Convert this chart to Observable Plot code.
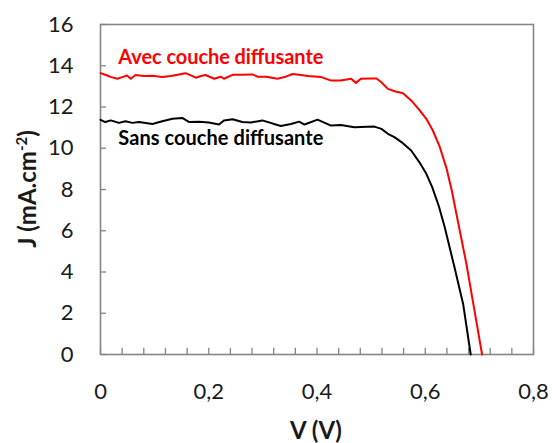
<!DOCTYPE html>
<html>
<head>
<meta charset="utf-8">
<script src="https://cdn.jsdelivr.net/npm/d3@7"></script>
<script src="https://cdn.jsdelivr.net/npm/@observablehq/plot@0.6"></script>
<style>
  html, body { margin: 0; padding: 0; background: #fff; }
  #chart { width: 552px; height: 443px; }
</style>
</head>
<body>
<div id="chart"></div>
<script>
// Avec couche diffusante (red)
const vAvec = [0, 0.01, 0.02, 0.031, 0.04, 0.049, 0.056, 0.065, 0.08, 0.096, 0.114, 0.13, 0.145, 0.157, 0.168, 0.176, 0.186, 0.194, 0.21, 0.222, 0.228, 0.244, 0.259, 0.281, 0.29, 0.306, 0.327, 0.34, 0.355, 0.37, 0.383, 0.407, 0.426, 0.444, 0.463, 0.472, 0.481, 0.5, 0.51, 0.519, 0.531, 0.545, 0.559, 0.574, 0.589, 0.602, 0.614, 0.627, 0.639, 0.649, 0.66, 0.676, 0.691, 0.705];
const jAvec = [13.64, 13.55, 13.45, 13.37, 13.45, 13.53, 13.37, 13.55, 13.5, 13.52, 13.45, 13.5, 13.58, 13.64, 13.52, 13.42, 13.5, 13.55, 13.37, 13.47, 13.37, 13.56, 13.56, 13.58, 13.47, 13.47, 13.37, 13.45, 13.6, 13.55, 13.5, 13.46, 13.28, 13.28, 13.37, 13.17, 13.37, 13.38, 13.38, 13.2, 12.88, 12.75, 12.67, 12.32, 11.86, 11.43, 10.86, 10.05, 9.05, 7.95, 6.5, 4.4, 2.13, 0];

// Sans couche diffusante (black)
const vSans = [0, 0.009, 0.019, 0.034, 0.046, 0.059, 0.071, 0.096, 0.114, 0.133, 0.151, 0.164, 0.182, 0.2, 0.219, 0.228, 0.244, 0.262, 0.278, 0.299, 0.333, 0.352, 0.367, 0.377, 0.401, 0.426, 0.444, 0.469, 0.506, 0.519, 0.531, 0.543, 0.556, 0.574, 0.589, 0.602, 0.613, 0.625, 0.636, 0.654, 0.67, 0.684];
const jSans = [11.38, 11.27, 11.35, 11.23, 11.31, 11.23, 11.27, 11.18, 11.31, 11.43, 11.47, 11.27, 11.29, 11.25, 11.15, 11.35, 11.41, 11.27, 11.25, 11.35, 11.08, 11.18, 11.29, 11.15, 11.39, 11.1, 11.13, 11.02, 11.05, 10.94, 10.7, 10.54, 10.3, 9.89, 9.33, 8.76, 8.1, 7.2, 6.17, 4.23, 2.45, 0];

const xLabelTicks = [0, 0.2, 0.4, 0.6, 0.8];
const xMinorTicks = [0, 0.04, 0.08, 0.12, 0.16, 0.2, 0.24, 0.28, 0.32, 0.36, 0.4, 0.44, 0.48, 0.52, 0.56, 0.6, 0.64, 0.68, 0.72, 0.76, 0.8];
const yTicks = [0, 2, 4, 6, 8, 10, 12, 14, 16];
const seriesNames = ["Avec couche diffusante", "Sans couche diffusante"];

const avec = vAvec.map((v, i) => ({V: v, J: jAvec[i]}));
const sans = vSans.map((v, i) => ({V: v, J: jSans[i]}));
const fr = d => String(d).replace(".", ",");

const plot = Plot.plot({
  width: 552,
  height: 443,
  marginLeft: 100,
  marginRight: 19,
  marginTop: 24,
  marginBottom: 89,
  style: {fontFamily: "Lato, 'Open Sans', sans-serif", fontSize: "22px", color: "#000", background: "#fff"},
  x: {domain: [0, 0.8], axis: null},
  y: {domain: [0, 16], axis: null},
  marks: [
    Plot.frame({stroke: "#858585", strokeWidth: 1.6}),
    Plot.ruleX(xMinorTicks, {x: d => d, y1: 0, y2: 0.3, stroke: "#858585", strokeWidth: 1.3}),
    Plot.ruleY(yTicks, {y: d => d, x1: 0, x2: 0.011, stroke: "#858585", strokeWidth: 1.3}),
    Plot.axisX({ticks: xLabelTicks, tickSize: 0, tickPadding: 29, tickFormat: fr, fill: "#1a1a1a", fontSize: 22, label: null}),
    Plot.axisY({ticks: yTicks, tickSize: 0, tickPadding: 27, tickFormat: fr, fill: "#1a1a1a", fontSize: 22, label: null}),
    Plot.line(sans, {x: "V", y: "J", stroke: "#000", strokeWidth: 2}),
    Plot.line(avec, {x: "V", y: "J", stroke: "#ff0000", strokeWidth: 2}),
    Plot.text([seriesNames[0]], {x: 0.033, y: 14.4, text: d => d, textAnchor: "start", fill: "#ff0000", fontWeight: "bold", fontSize: 20}),
    Plot.text([seriesNames[1]], {x: 0.033, y: 10.45, text: d => d, textAnchor: "start", fill: "#000", fontWeight: "bold", fontSize: 20})
  ]
});

const svg = d3.select(plot);
svg.selectAll("text").filter(function() { return /couche/.test(this.textContent); })
  .attr("textLength", 205).attr("lengthAdjust", "spacing");

// Axis titles
svg.append("text")
  .attr("x", 316).attr("y", 439)
  .attr("text-anchor", "middle")
  .attr("font-family", "Lato, 'Open Sans', sans-serif")
  .attr("font-weight", "bold").attr("font-size", 24)
  .attr("fill", "#1a1a1a")
  .text("V (V)");

const yt = svg.append("text")
  .attr("transform", "translate(36,189) rotate(-90)")
  .attr("text-anchor", "middle")
  .attr("font-family", "Lato, 'Open Sans', sans-serif")
  .attr("font-weight", "bold").attr("font-size", 24)
  .attr("fill", "#1a1a1a");
yt.append("tspan").text("J (mA.cm");
yt.append("tspan").attr("baseline-shift", "super").attr("font-size", 15).text("-2");
yt.append("tspan").text(")");

document.getElementById("chart").appendChild(plot);
</script>
</body>
</html>
